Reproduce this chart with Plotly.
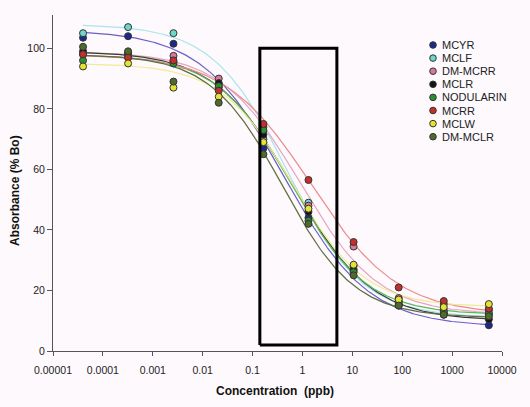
import numpy as np
import plotly.graph_objects as go

# ---- data ----
concentration = [0.00004, 0.00032, 0.0026, 0.021, 0.165, 1.32, 10.6, 85, 680, 5450]

series_names = ["MCYR", "MCLF", "DM-MCRR", "MCLR", "NODULARIN", "MCRR", "MCLW", "DM-MCLR"]

mcyr      = [103.5, 104.0, 101.5, 87.0, 67.0, 44.0, 27.0, 15.0, 12.0, 8.5]
mclf      = [105.0, 107.0, 105.0, 88.0, 70.0, 49.0, 28.0, 16.5, 13.5, 12.0]
dm_mcrr   = [98.0, 97.0, 97.5, 90.0, 74.0, 48.0, 34.5, 17.5, 15.5, 13.5]
mclr      = [99.0, 98.0, 95.5, 88.5, 71.5, 46.0, 26.5, 15.5, 12.5, 10.5]
nodularin = [96.0, 98.5, 95.0, 87.5, 73.0, 43.0, 26.0, 16.0, 13.0, 12.5]
mcrr      = [98.0, 97.0, 96.0, 86.0, 75.0, 56.5, 36.0, 21.0, 16.5, 14.0]
mclw      = [94.0, 95.0, 87.0, 84.0, 69.0, 47.0, 28.5, 17.0, 14.5, 15.5]
dm_mclr   = [100.5, 99.0, 89.0, 82.0, 65.0, 42.0, 25.0, 15.0, 12.0, 11.5]
series_values = [mcyr, mclf, dm_mcrr, mclr, nodularin, mcrr, mclw, dm_mclr]

# fitted 4-parameter logistic curves (top, bottom, IC50, slope)
fit_top    = [106, 108, 99, 99, 98, 98, 95, 98]
fit_bottom = [8, 11, 12, 10, 12, 12, 14.5, 11]
fit_ic50   = [0.45, 0.5, 0.9, 0.65, 0.6, 1.5, 0.65, 0.4]
fit_slope  = [0.52, 0.58, 0.55, 0.55, 0.58, 0.5, 0.6, 0.6]

marker_colors = ["#1b2a8a", "#6fd6cc", "#d9789c", "#141414", "#2c8f34", "#c3302c", "#e6e232", "#4f6b2c"]
curve_colors  = ["#6a60c4", "#a6e6ea", "#e8a6be", "#3a3a3a", "#5cb85c", "#ec8a8a", "#efeb96", "#5e6e3e"]

x_tickvals = [0.00001, 0.0001, 0.001, 0.01, 0.1, 1, 10, 100, 1000, 10000]
x_ticktext = ["0.00001", "0.0001", "0.001", "0.01", "0.1", "1", "10", "100", "1000", "10000"]

box_x = [0.14, 4.9]
box_y = [2, 100]

# ---- figure ----
W, H = 530, 407
ML, MR, MT, MB = 53, 28, 15, 56
PW, PH = W - ML - MR, H - MT - MB
BG = "#fdf9fd"
FONT = "Liberation Sans, Arial, sans-serif"

fig = go.Figure()

xs = np.logspace(np.log10(concentration[0]), np.log10(concentration[-1]), 300)
for i, name in enumerate(series_names):
    ys = fit_bottom[i] + (fit_top[i] - fit_bottom[i]) / (1 + (xs / fit_ic50[i]) ** fit_slope[i])
    fig.add_trace(go.Scatter(x=xs, y=ys, mode="lines", showlegend=False,
                             line=dict(color=curve_colors[i], width=1.2), hoverinfo="skip"))

for i, name in enumerate(series_names):
    fig.add_trace(go.Scatter(x=concentration, y=series_values[i], mode="markers", name=name,
                             showlegend=False,
                             marker=dict(color=marker_colors[i], size=7,
                                         line=dict(color="#333333", width=1))))

# highlighted box
fig.add_trace(go.Scatter(x=[box_x[0], box_x[1], box_x[1], box_x[0], box_x[0]],
                         y=[box_y[0], box_y[0], box_y[1], box_y[1], box_y[0]],
                         mode="lines", line=dict(color="#000000", width=3),
                         showlegend=False, hoverinfo="skip"))

# custom compact legend
leg_x_marker = (433 - ML) / PW
leg_x_text = (440 - ML) / PW
leg_y0 = 45
leg_dy = 13.1
shapes = []
annotations = []
for i, name in enumerate(series_names):
    py = (MT + PH - (leg_y0 + i * leg_dy)) / PH
    shapes.append(dict(type="circle", xref="paper", yref="paper",
                       xsizemode="pixel", ysizemode="pixel",
                       xanchor=leg_x_marker, yanchor=py,
                       x0=-3.3, x1=3.3, y0=-3.3, y1=3.3,
                       fillcolor=marker_colors[i], line=dict(color="#333333", width=1)))
    annotations.append(dict(text=name, xref="paper", yref="paper", x=leg_x_text, y=py,
                            xanchor="left", yanchor="middle", showarrow=False,
                            font=dict(family=FONT, size=11, color="#222222")))

annotations.append(dict(text="<b>Absorbance (% Bo)</b>", xref="paper", yref="paper",
                        x=(15 - ML) / PW, y=(MT + PH - 191) / PH, textangle=-90,
                        showarrow=False, xanchor="center", yanchor="middle",
                        font=dict(family=FONT, size=12, color="#111111")))
annotations.append(dict(text="<b>Concentration  (ppb)</b>", xref="paper", yref="paper",
                        x=(275 - ML) / PW, y=-(391 - MT - PH) / PH,
                        showarrow=False, xanchor="center", yanchor="middle",
                        font=dict(family=FONT, size=12, color="#111111")))

fig.update_layout(
    width=W, height=H,
    margin=dict(l=ML, r=MR, t=MT, b=MB),
    paper_bgcolor=BG, plot_bgcolor=BG,
    showlegend=False,
    shapes=shapes, annotations=annotations,
    font=dict(family=FONT, size=10, color="#222222"),
    xaxis=dict(type="log", range=[-5, 4], tickvals=x_tickvals, ticktext=x_ticktext,
               showgrid=False, zeroline=False, showline=True, linecolor="#555555", linewidth=1,
               ticks="outside", ticklen=4, tickcolor="#555555", ticklabelstandoff=5,
               tickfont=dict(size=10.5), automargin=False),
    yaxis=dict(range=[0, 111], tickvals=[0, 20, 40, 60, 80, 100],
               showgrid=False, zeroline=False, showline=True, linecolor="#555555", linewidth=1,
               ticks="outside", ticklen=5, tickcolor="#555555", tickfont=dict(size=10.5),
               automargin=False),
)

fig.write_html("out.html", config={"displayModeBar": False},
               post_script="document.body.style.margin='0';document.body.style.background='#fdf9fd';")
